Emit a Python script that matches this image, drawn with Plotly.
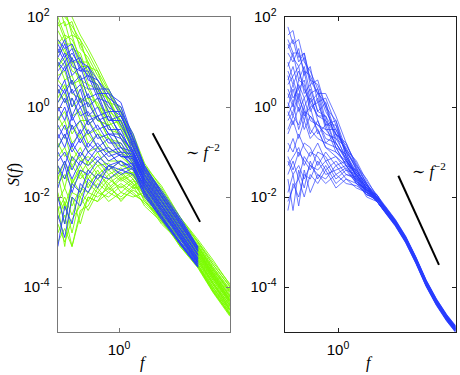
import plotly.graph_objects as go
from plotly.subplots import make_subplots

# frequency grids
f_left = [0.05, 0.07, 0.1, 0.15, 0.22, 0.35, 0.6, 1.1, 2.0, 3.5, 8, 20, 48, 100, 229]
f_left_blue = f_left[:13]
f_right = [0.06, 0.08, 0.11, 0.15, 0.21, 0.32, 0.5, 0.89, 1.58, 2.82, 5.0, 8.9,
           14.1, 25.1, 44.7, 79.4, 141, 251, 447, 724]

# log10 S(f), one row per curve
green_left = [
    [2.6, 2.3, 2.0, 1.6, 1.3, 0.9, 0.4, -0.1, -0.6, -1.25, -1.8, -2.45, -3.0, -3.45, -3.93],
    [2.3, 2.1, 1.7, 1.4, 1.0, 0.6, 0.1, -0.3, -0.8, -1.35, -1.9, -2.55, -3.05, -3.55, -4.05],
    [2.0, 1.6, 1.5, 1.1, 0.8, 0.3, 0.0, -0.5, -0.9, -1.45, -1.95, -2.6, -3.1, -3.6, -4.1],
    [1.8, 1.9, 1.3, 1.2, 0.7, 0.5, -0.2, -0.4, -1.0, -1.5, -2.0, -2.65, -3.15, -3.65, -4.15],
    [1.5, 1.2, 1.1, 0.6, 0.5, 0.0, -0.3, -0.7, -1.1, -1.55, -2.05, -2.7, -3.2, -3.7, -4.2],
    [1.2, 1.3, 0.8, 0.7, 0.2, 0.1, -0.5, -0.6, -1.2, -1.6, -2.1, -2.75, -3.25, -3.75, -4.25],
    [1.0, 0.6, 0.7, 0.2, 0.1, -0.3, -0.4, -0.9, -1.15, -1.6, -2.15, -2.8, -3.3, -3.8, -4.3],
    [0.7, 0.8, 0.3, 0.2, -0.2, -0.2, -0.7, -0.8, -1.3, -1.65, -2.2, -2.85, -3.35, -3.85, -4.35],
    [0.4, 0.1, 0.2, -0.3, -0.3, -0.6, -0.7, -1.0, -1.2, -1.7, -2.25, -2.9, -3.4, -3.9, -4.4],
    [0.1, 0.3, -0.2, -0.1, -0.6, -0.5, -0.9, -1.1, -1.35, -1.75, -2.3, -2.95, -3.45, -3.95, -4.45],
    [-0.2, -0.5, -0.4, -0.7, -0.6, -0.9, -1.0, -1.3, -1.4, -1.8, -2.35, -3.0, -3.5, -4.0, -4.5],
    [-0.5, -0.3, -0.8, -0.6, -1.0, -0.9, -1.2, -1.2, -1.5, -1.85, -2.4, -3.05, -3.55, -4.05, -4.55],
    [-0.8, -1.1, -0.9, -1.2, -1.1, -1.3, -1.25, -1.5, -1.45, -1.9, -2.45, -3.1, -3.55, -4.1, -4.6],
    [-1.1, -0.9, -1.3, -1.1, -1.4, -1.2, -1.5, -1.35, -1.6, -1.95, -2.5, -3.1, -3.58, -4.12, -4.65],
    [-1.4, -1.6, -1.3, -1.6, -1.4, -1.6, -1.4, -1.65, -1.5, -2.0, -2.55, -3.05, -3.5, -4.08, -4.62],
    [-1.7, -1.5, -1.8, -1.5, -1.7, -1.5, -1.7, -1.5, -1.7, -2.05, -2.6, -3.0, -3.45, -4.0, -4.58],
    [-2.0, -2.3, -1.9, -2.0, -1.7, -1.9, -1.6, -1.8, -1.6, -2.1, -2.45, -2.95, -3.4, -3.95, -4.52],
    [-2.3, -2.0, -2.4, -1.9, -2.1, -1.7, -1.9, -1.7, -1.9, -2.15, -2.5, -2.9, -3.35, -3.9, -4.48],
    [-2.6, -3.0, -2.5, -2.2, -1.9, -2.0, -1.8, -2.0, -1.75, -2.2, -2.55, -2.85, -3.3, -3.85, -4.42],
    [-2.8, -2.4, -3.1, -2.3, -2.2, -1.8, -2.1, -1.9, -2.0, -1.9, -2.4, -2.8, -3.25, -3.8, -4.38],
    [-2.2, -3.1, -2.0, -2.6, -2.0, -2.1, -1.7, -2.1, -1.8, -1.8, -2.3, -2.75, -3.2, -3.75, -4.32],
    [-1.9, -2.6, -1.6, -1.9, -1.5, -1.8, -1.5, -1.9, -1.65, -1.7, -2.2, -2.7, -3.15, -3.7, -4.28],
    [-1.5, -2.2, -1.7, -1.4, -1.8, -1.4, -1.8, -1.55, -1.75, -1.6, -2.1, -2.65, -3.1, -3.65, -4.22],
    [1.9, 1.5, 1.6, 1.0, 1.0, 0.4, 0.2, -0.35, -0.75, -1.4, -1.85, -2.5, -3.0, -3.5, -4.0],
    [2.4, 1.8, 1.9, 1.3, 1.1, 0.7, 0.3, -0.2, -0.65, -1.3, -1.75, -2.45, -2.95, -3.4, -3.95],
    [0.9, 1.1, 0.5, 0.6, 0.0, 0.2, -0.4, -0.3, -0.9, -1.4, -2.0, -2.6, -3.1, -3.6, -4.1],
    [2.5, 2.0, 1.8, 1.5, 1.2, 0.8, 0.35, -0.15, -0.7, -1.3, -1.85, -2.5, -3.02, -3.5, -3.98],
    [2.2, 2.2, 1.6, 1.5, 0.9, 0.8, 0.1, 0.0, -0.85, -1.38, -1.92, -2.57, -3.08, -3.57, -4.07],
    [1.7, 1.4, 1.4, 0.9, 0.9, 0.3, 0.2, -0.45, -0.85, -1.48, -1.98, -2.62, -3.12, -3.62, -4.12],
    [1.4, 1.6, 1.0, 1.0, 0.5, 0.4, -0.1, -0.3, -1.05, -1.52, -2.02, -2.68, -3.18, -3.68, -4.18],
    [1.1, 0.9, 1.0, 0.5, 0.4, 0.0, -0.1, -0.7, -1.0, -1.58, -2.08, -2.72, -3.22, -3.72, -4.22],
    [0.6, 0.4, 0.6, 0.1, 0.2, -0.3, -0.4, -0.9, -1.1, -1.62, -2.12, -2.78, -3.28, -3.78, -4.28],
    [0.2, 0.5, 0.0, 0.2, -0.4, -0.2, -0.7, -0.9, -1.25, -1.68, -2.18, -2.82, -3.32, -3.82, -4.32],
    [-0.3, -0.1, -0.6, -0.3, -0.8, -0.6, -1.0, -1.0, -1.4, -1.72, -2.28, -2.92, -3.42, -3.92, -4.42],
    [-0.9, -0.6, -1.2, -0.9, -1.3, -1.0, -1.4, -1.2, -1.55, -1.82, -2.38, -3.02, -3.52, -4.02, -4.52],
    [-1.3, -1.8, -1.1, -1.5, -1.2, -1.5, -1.3, -1.6, -1.45, -1.88, -2.42, -3.08, -3.56, -4.1, -4.62],
    [-1.6, -1.2, -1.7, -1.3, -1.6, -1.3, -1.6, -1.45, -1.7, -1.95, -2.52, -3.05, -3.52, -4.06, -4.6],
    [-2.5, -2.1, -2.8, -2.0, -2.3, -1.9, -2.0, -1.75, -1.95, -2.1, -2.48, -2.92, -3.38, -3.92, -4.5],
    [-3.0, -2.7, -3.1, -2.4, -2.0, -2.1, -1.9, -2.05, -1.85, -2.0, -2.35, -2.78, -3.22, -3.78, -4.35],
    [-2.1, -1.8, -2.2, -1.8, -1.9, -1.6, -1.85, -1.6, -1.8, -1.75, -2.25, -2.72, -3.18, -3.72, -4.3],
]

blue_left = [
    [1.5, 1.3, 1.4, 1.0, 0.9, 0.6, 0.3, 0.1, -0.7, -1.3, -1.9, -2.5, -3.12],
    [1.2, 1.5, 1.0, 1.1, 0.6, 0.5, 0.0, -0.2, -0.8, -1.4, -1.95, -2.55, -3.18],
    [1.0, 0.8, 1.1, 0.6, 0.7, 0.2, 0.1, -0.4, -0.9, -1.45, -2.0, -2.6, -3.22],
    [0.8, 1.0, 0.5, 0.7, 0.2, 0.3, -0.3, -0.3, -1.0, -1.5, -2.05, -2.65, -3.27],
    [0.5, 0.3, 0.6, 0.1, 0.3, -0.2, -0.1, -0.7, -0.95, -1.55, -2.1, -2.7, -3.3],
    [0.3, 0.6, 0.0, 0.4, -0.2, 0.0, -0.5, -0.5, -1.1, -1.6, -2.15, -2.75, -3.35],
    [0.0, -0.3, 0.2, -0.2, -0.1, -0.5, -0.4, -0.9, -1.0, -1.65, -2.2, -2.8, -3.38],
    [-0.3, 0.0, -0.5, -0.3, -0.6, -0.4, -0.8, -0.8, -1.2, -1.7, -2.25, -2.85, -3.42],
    [-0.6, -0.9, -0.4, -0.8, -0.5, -0.9, -0.7, -1.1, -1.1, -1.75, -2.3, -2.9, -3.46],
    [-0.9, -0.6, -1.0, -0.7, -1.0, -0.8, -1.1, -1.0, -1.3, -1.8, -2.35, -2.95, -3.5],
    [-1.3, -1.6, -1.1, -1.3, -1.0, -1.2, -1.0, -1.3, -1.25, -1.85, -2.4, -3.0, -3.53],
    [-1.8, -1.3, -1.9, -1.4, -1.5, -1.2, -1.4, -1.2, -1.4, -1.9, -2.45, -3.05, -3.56],
    [-3.1, -2.2, -2.6, -1.7, -1.9, -1.5, -1.6, -1.4, -1.5, -1.95, -2.5, -3.05, -3.56],
    [-2.4, -2.9, -2.0, -2.2, -1.6, -1.8, -1.3, -1.5, -1.35, -2.0, -2.45, -3.0, -3.5],
    [1.4, 1.1, 1.3, 0.8, 0.9, 0.4, 0.4, -0.1, -0.6, -1.35, -1.85, -2.45, -3.11],
    [0.6, 0.9, 0.3, 0.5, 0.0, 0.2, -0.3, -0.2, -0.85, -1.5, -2.0, -2.6, -3.2],
    [-0.1, 0.2, -0.3, 0.0, -0.4, -0.2, -0.6, -0.6, -1.0, -1.6, -2.1, -2.7, -3.3],
    [-1.0, -1.3, -0.8, -1.1, -0.8, -1.0, -0.9, -1.1, -1.15, -1.7, -2.2, -2.8, -3.4],
    [1.3, 1.0, 1.2, 0.9, 0.7, 0.6, 0.2, 0.0, -0.75, -1.32, -1.9, -2.52, -3.14],
    [0.9, 1.2, 0.7, 0.9, 0.4, 0.4, -0.1, -0.1, -0.9, -1.42, -1.98, -2.58, -3.2],
    [0.4, 0.1, 0.4, 0.0, 0.1, -0.3, -0.2, -0.6, -1.05, -1.52, -2.08, -2.68, -3.28],
    [0.1, 0.4, -0.2, 0.2, -0.3, -0.2, -0.6, -0.7, -1.15, -1.62, -2.18, -2.78, -3.36],
    [-0.4, -0.7, -0.2, -0.6, -0.3, -0.7, -0.6, -1.0, -1.05, -1.68, -2.25, -2.85, -3.44],
    [-0.7, -0.4, -0.9, -0.5, -0.9, -0.6, -1.0, -0.9, -1.25, -1.78, -2.32, -2.92, -3.48],
    [-1.5, -1.2, -1.6, -1.2, -1.3, -1.1, -1.3, -1.2, -1.35, -1.88, -2.42, -3.02, -3.54],
    [-2.0, -2.6, -1.7, -1.9, -1.4, -1.6, -1.3, -1.4, -1.3, -1.92, -2.48, -3.05, -3.55],
    [1.1, 1.4, 0.9, 0.8, 0.8, 0.3, 0.3, -0.2, -0.7, -1.38, -1.92, -2.5, -3.15],
    [-1.2, -1.0, -1.4, -1.0, -1.2, -0.9, -1.2, -1.05, -1.3, -1.75, -2.28, -2.88, -3.45],
]

blue_right = [
    [1.78, 1.4, 1.5, 1.0, 0.8, 0.4, -0.1, -0.5, -1.0, -1.3, -1.7, -2.0, -2.22, -2.53, -2.9, -3.36, -3.86, -4.28, -4.63, -4.87],
    [1.6, 1.7, 1.1, 1.2, 0.6, 0.5, 0.0, -0.7, -0.9, -1.4, -1.75, -2.05, -2.27, -2.56, -2.93, -3.4, -3.9, -4.33, -4.68, -4.92],
    [1.2, 1.0, 1.3, 0.7, 0.9, 0.1, 0.2, -0.4, -1.1, -1.5, -1.8, -2.1, -2.31, -2.6, -2.97, -3.43, -3.94, -4.36, -4.71, -4.95],
    [0.9, 1.2, 0.6, 0.9, 0.3, 0.4, -0.3, -0.6, -0.8, -1.35, -1.85, -1.95, -2.25, -2.55, -2.92, -3.38, -3.89, -4.31, -4.66, -4.9],
    [0.5, 0.7, 0.9, 0.3, 0.5, -0.1, 0.1, -0.8, -1.2, -1.45, -1.7, -2.1, -2.33, -2.63, -3.0, -3.46, -3.97, -4.39, -4.74, -4.98],
    [0.3, 0.0, 0.6, 0.5, -0.1, 0.2, -0.5, -0.5, -1.0, -1.6, -1.9, -2.0, -2.24, -2.54, -2.91, -3.37, -3.88, -4.3, -4.65, -4.89],
    [1.0, 0.6, 0.2, 0.8, 0.1, -0.2, -0.2, -0.9, -1.3, -1.4, -1.75, -2.05, -2.29, -2.59, -2.96, -3.42, -3.93, -4.35, -4.7, -4.94],
    [0.0, 0.4, -0.1, 0.2, -0.3, -0.4, -0.6, -0.7, -1.1, -1.55, -1.9, -2.1, -2.35, -2.65, -3.02, -3.48, -3.99, -4.41, -4.76, -5.0],
    [-0.3, -0.1, 0.3, -0.2, 0.0, -0.6, -0.4, -1.0, -1.25, -1.5, -1.8, -2.0, -2.21, -2.51, -2.88, -3.34, -3.85, -4.27, -4.62, -4.86],
    [0.7, 0.2, 0.4, 0.0, 0.3, -0.3, -0.7, -0.8, -1.15, -1.65, -1.85, -2.05, -2.28, -2.58, -2.95, -3.41, -3.92, -4.34, -4.69, -4.93],
    [-0.8, -1.0, -0.6, -0.9, -1.1, -0.8, -1.2, -1.1, -1.4, -1.5, -1.9, -2.0, -2.26, -2.57, -2.94, -3.39, -3.9, -4.32, -4.67, -4.91],
    [-1.0, -0.7, -1.1, -0.8, -0.9, -1.3, -1.0, -1.3, -1.2, -1.7, -1.8, -2.1, -2.32, -2.62, -2.99, -3.45, -3.96, -4.38, -4.73, -4.97],
    [-1.3, -1.1, -0.9, -1.3, -1.0, -1.1, -1.4, -1.2, -1.5, -1.55, -1.95, -2.05, -2.3, -2.6, -2.97, -3.43, -3.93, -4.35, -4.7, -4.94],
    [-2.3, -1.7, -2.0, -1.5, -1.6, -1.2, -1.5, -1.4, -1.3, -1.65, -1.85, -2.0, -2.23, -2.53, -2.9, -3.35, -3.87, -4.29, -4.64, -4.88],
    [-1.6, -2.3, -1.4, -1.8, -1.2, -1.6, -1.3, -1.7, -1.5, -1.6, -2.0, -2.1, -2.34, -2.64, -3.01, -3.47, -3.98, -4.4, -4.75, -4.99],
    [-1.9, -1.5, -2.2, -1.4, -1.9, -1.5, -1.7, -1.5, -1.7, -1.75, -1.9, -2.05, -2.27, -2.57, -2.94, -3.4, -3.91, -4.33, -4.68, -4.92],
    [1.4, 1.1, 0.9, 1.1, 0.5, 0.6, 0.0, -0.3, -0.95, -1.2, -1.65, -1.95, -2.2, -2.5, -2.87, -3.33, -3.84, -4.26, -4.61, -4.85],
    [0.2, 0.5, 0.1, -0.3, 0.2, -0.2, -0.3, -0.9, -1.05, -1.45, -1.8, -2.0, -2.25, -2.56, -2.93, -3.39, -3.9, -4.32, -4.67, -4.91],
    [-0.5, -0.2, -0.4, 0.0, -0.5, -0.7, -0.8, -0.9, -1.3, -1.6, -1.75, -2.1, -2.31, -2.61, -2.98, -3.44, -3.95, -4.37, -4.72, -4.96],
    [-1.1, -1.4, -1.0, -1.2, -1.4, -1.0, -1.1, -1.5, -1.35, -1.7, -1.95, -2.0, -2.29, -2.59, -2.96, -3.42, -3.93, -4.35, -4.7, -4.94],
    [0.6, 0.9, 0.4, 0.6, 0.0, 0.1, -0.4, -0.4, -1.0, -1.35, -1.7, -2.05, -2.26, -2.55, -2.92, -3.38, -3.89, -4.31, -4.66, -4.9],
    [-0.1, -0.4, 0.0, -0.5, -0.2, -0.5, -0.9, -1.0, -1.2, -1.5, -1.85, -1.95, -2.28, -2.58, -2.95, -3.41, -3.92, -4.34, -4.69, -4.93],
    [1.5, 1.2, 1.2, 0.8, 0.7, 0.3, 0.1, -0.6, -0.85, -1.25, -1.72, -2.0, -2.24, -2.54, -2.91, -3.37, -3.88, -4.3, -4.65, -4.89],
    [0.8, 0.5, 0.8, 0.4, 0.1, 0.3, -0.4, -0.3, -1.1, -1.45, -1.8, -2.05, -2.3, -2.6, -2.97, -3.43, -3.94, -4.36, -4.71, -4.95],
    [0.1, -0.2, 0.2, -0.1, -0.2, -0.4, -0.5, -0.8, -1.15, -1.55, -1.85, -2.0, -2.27, -2.57, -2.94, -3.4, -3.91, -4.33, -4.68, -4.92],
    [-0.6, -0.3, -0.7, -0.3, -0.7, -0.5, -0.9, -1.1, -1.3, -1.65, -1.9, -2.1, -2.32, -2.62, -2.99, -3.45, -3.96, -4.38, -4.73, -4.97],
    [-1.5, -1.2, -1.6, -1.1, -1.3, -1.4, -1.2, -1.6, -1.4, -1.7, -1.95, -2.05, -2.25, -2.55, -2.92, -3.38, -3.89, -4.31, -4.66, -4.9],
    [-2.1, -1.8, -1.6, -2.0, -1.5, -1.7, -1.4, -1.8, -1.6, -1.8, -1.9, -2.0, -2.28, -2.58, -2.95, -3.41, -3.92, -4.34, -4.69, -4.93],
    [1.3, 1.5, 1.0, 1.2, 0.6, 0.3, 0.3, -0.2, -0.8, -1.3, -1.6, -2.0, -2.21, -2.52, -2.89, -3.35, -3.86, -4.28, -4.63, -4.87],
    [-0.2, 0.1, -0.5, -0.1, -0.6, -0.3, -0.8, -0.6, -1.2, -1.5, -1.85, -2.05, -2.3, -2.6, -2.97, -3.43, -3.94, -4.36, -4.71, -4.95],
    [-1.2, -1.5, -1.3, -1.6, -1.3, -1.5, -1.6, -1.3, -1.6, -1.7, -1.85, -2.1, -2.33, -2.63, -3.0, -3.46, -3.97, -4.39, -4.74, -4.98],
    [0.4, 0.1, 0.5, 0.2, 0.4, -0.1, -0.2, -0.6, -0.95, -1.4, -1.75, -1.95, -2.23, -2.53, -2.9, -3.36, -3.87, -4.29, -4.64, -4.88],
]

# ~f^-2 guide segments (endpoints)
guide_left_f = [5.2, 53]
guide_left_S = [0.26, 0.0028]
guide_right_f = [29.6, 290]
guide_right_S = [0.0297, 0.00031]

ytick_vals = [1e-4, 1e-2, 1, 100]
ytick_text = ["10<sup>-4</sup>", "10<sup>-2</sup>", "10<sup>0</sup>", "10<sup>2</sup>"]

GREEN = "rgb(124,252,0)"
BLUE = "rgb(40,60,255)"

W, H = 460, 375


def px(x):
    return x / W


def py(y):
    return 1 - y / H


fig = make_subplots(rows=1, cols=2)

for row in green_left:
    fig.add_trace(go.Scatter(x=f_left, y=[10 ** v for v in row], mode="lines",
                             line=dict(color=GREEN, width=0.9), hoverinfo="skip"), row=1, col=1)
for row in blue_left:
    fig.add_trace(go.Scatter(x=f_left_blue, y=[10 ** v for v in row], mode="lines",
                             line=dict(color=BLUE, width=0.9), hoverinfo="skip"), row=1, col=1)
for row in blue_right:
    fig.add_trace(go.Scatter(x=f_right, y=[10 ** v for v in row], mode="lines",
                             line=dict(color=BLUE, width=0.8), opacity=0.85, hoverinfo="skip"), row=1, col=2)

fig.add_trace(go.Scatter(x=guide_left_f, y=guide_left_S, mode="lines",
                         line=dict(color="black", width=2)), row=1, col=1)
fig.add_trace(go.Scatter(x=guide_right_f, y=guide_right_S, mode="lines",
                         line=dict(color="black", width=2)), row=1, col=2)

tickfont = dict(family="Liberation Sans, Arial, sans-serif", size=15, color="black")
axis_common = dict(type="log", showgrid=False, zeroline=False, showline=True, linewidth=1,
                   mirror="ticks", ticks="inside", ticklen=4, tickfont=tickfont,
                   ticklabelstandoff=4, ticklabeloverflow="allow", automargin=False)

fig.update_xaxes(**axis_common, tickvals=[1], ticktext=["10<sup>0</sup>"])
fig.update_yaxes(**axis_common, tickvals=ytick_vals, ticktext=ytick_text, range=[-5, 2])

fig.update_xaxes(domain=[px(57.5), px(230)], range=[-1.309, 2.362],
                 linecolor="rgb(120,120,120)", tickcolor="rgb(120,120,120)", row=1, col=1)
fig.update_xaxes(domain=[px(284.5), px(456)], range=[-1.305, 2.878],
                 linecolor="rgb(30,30,30)", tickcolor="rgb(30,30,30)", row=1, col=2)
fig.update_yaxes(domain=[py(332), py(17)], linecolor="rgb(120,120,120)",
                 tickcolor="rgb(120,120,120)", row=1, col=1)
fig.update_yaxes(domain=[py(332), py(17)], linecolor="rgb(30,30,30)",
                 tickcolor="rgb(30,30,30)", row=1, col=2)

serif = dict(family="Liberation Serif, DejaVu Serif, serif", size=16, color="black")
labels = [
    (14, 175, "<i>S</i>(<i>f</i>)", -90),
    (143, 363, "<i>f</i>", 0),
    (369, 363, "<i>f</i>", 0),
    (203, 151, "∼ <i>f</i><sup>−2</sup>", 0),
    (429, 170, "∼ <i>f</i><sup>−2</sup>", 0),
]
for x, y, text, angle in labels:
    fig.add_annotation(x=px(x), y=py(y), xref="paper", yref="paper", text=text,
                       textangle=angle, showarrow=False, font=serif,
                       xanchor="center", yanchor="middle")

fig.update_layout(width=W, height=H, margin=dict(l=0, r=0, t=0, b=0),
                  showlegend=False, plot_bgcolor="white", paper_bgcolor="white",
                  hovermode=False)

# drop the page's default body margin so the figure sits at the window corner
fig.write_html("out.html", config={"displayModeBar": False},
               post_script="document.body.style.margin = '0';")
